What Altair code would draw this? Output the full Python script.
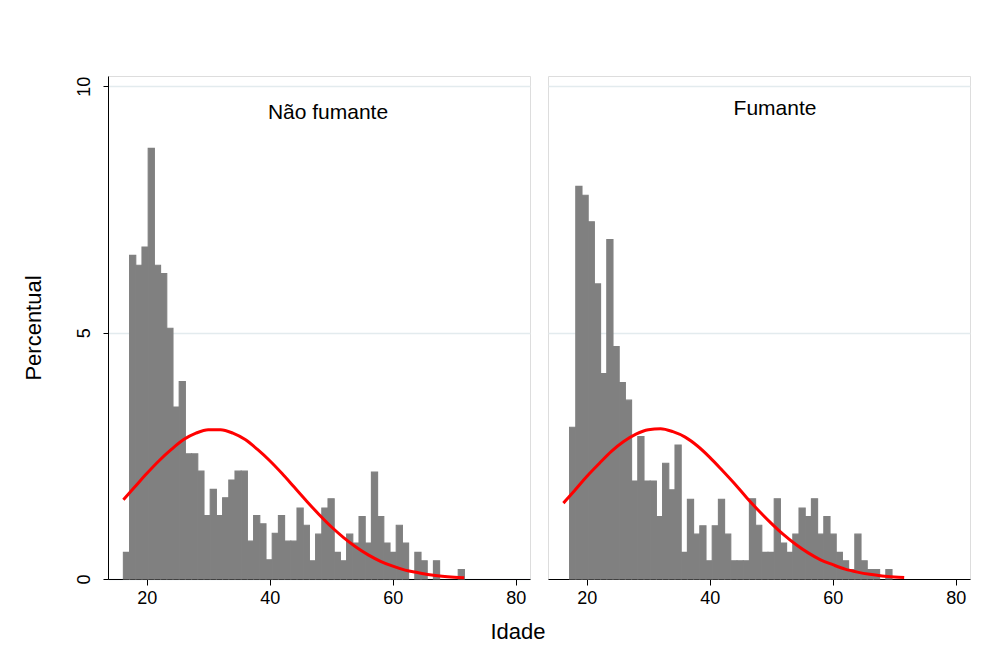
import altair as alt
import pandas as pd

# ---- data ----
bin_start = 16.2
bin_width = 1.008

pct_nao_fumante = [0.54, 6.57, 6.37, 6.74, 8.74, 6.37, 6.20, 5.09, 3.49, 4.01,
                   2.54, 2.54, 2.19, 1.29, 1.82, 1.29, 1.65, 2.01, 2.19, 2.19,
                   0.77, 1.29, 1.12, 0.39, 0.93, 1.29, 0.77, 0.77, 1.44, 1.09,
                   0.37, 0.91, 1.44, 1.63, 0.54, 0.37, 0.91, 0.73, 1.27, 0.73,
                   2.17, 1.27, 0.73, 0.54, 1.09, 0.73, 0.00, 0.54, 0.37, 0.00,
                   0.37, 0.00, 0.00, 0.00, 0.19]

pct_fumante = [0.00, 3.08, 7.97, 7.79, 7.25, 5.99, 4.17, 6.89, 4.72, 3.99,
               3.63, 1.99, 2.89, 1.99, 1.99, 1.27, 2.35, 1.81, 2.72, 0.54,
               1.62, 0.91, 1.08, 0.37, 1.08, 1.62, 0.91, 0.37, 0.37, 0.37,
               1.63, 1.09, 0.54, 0.54, 1.63, 0.73, 0.54, 0.91, 1.44, 1.27,
               1.63, 0.91, 1.27, 0.91, 0.54, 0.37, 0.19, 0.91, 0.37, 0.19,
               0.19, 0.00, 0.19, 0.00, 0.00]

curve_age = [16.2, 18, 20, 22, 24, 26, 28, 30, 32, 34, 36, 38, 40, 42, 44,
             46, 48, 50, 52, 54, 56, 58, 60, 62, 64, 66, 68, 70, 71.6]
curve_nao_fumante = [1.61, 1.86, 2.14, 2.40, 2.63, 2.83, 2.96, 3.03, 3.03, 2.96,
                     2.83, 2.63, 2.40, 2.14, 1.86, 1.58, 1.31, 1.06, 0.84, 0.65,
                     0.49, 0.36, 0.26, 0.18, 0.13, 0.086, 0.056, 0.036, 0.025]
curve_fumante = [1.54, 1.79, 2.08, 2.34, 2.59, 2.79, 2.94, 3.03, 3.05, 2.99,
                 2.88, 2.70, 2.47, 2.21, 1.94, 1.65, 1.38, 1.13, 0.90, 0.70,
                 0.53, 0.39, 0.29, 0.20, 0.14, 0.095, 0.063, 0.041, 0.028]

x_ticks = [20, 40, 60, 80]
y_ticks = [0, 5, 10]

FONT = "Liberation Sans"
W, H = 422, 503
x_scale = alt.Scale(domain=[13.7, 82.3], nice=False, zero=False)
y_scale = alt.Scale(domain=[0, 10.21], nice=False, zero=True)


def panel(pcts, curve, title, left, dx, dy):
    bars = pd.DataFrame({
        "x0": [bin_start + i * bin_width for i in range(len(pcts))],
        "pct": pcts,
    })
    bars["x1"] = bars["x0"] + bin_width
    bars["base"] = 0.0
    bars = bars[bars["pct"] > 0]
    line = pd.DataFrame({"age": curve_age, "dens": curve})

    x_axis = alt.Axis(values=x_ticks, title=None, grid=False, labelFontSize=18,
                      labelFont=FONT, labelColor="black", tickColor="black",
                      domainColor="black", tickSize=6, labelPadding=4,
                      labelFlush=False)
    if left:
        y_axis = alt.Axis(values=y_ticks, title="Percentual", grid=True,
                          gridColor="#e3ebee", gridWidth=1.5,
                          labelAngle=270, labelFontSize=18, labelFont=FONT,
                          labelColor="black", tickColor="black",
                          domainColor="black", tickSize=5, labelPadding=10,
                          titleFont=FONT, titleFontSize=22,
                          titleFontWeight="normal", titleColor="black",
                          titlePadding=30)
    else:
        y_axis = alt.Axis(values=[5, 10], title=None, grid=True,
                          gridColor="#e3ebee", gridWidth=1.5, labels=False,
                          ticks=False, domain=False)

    b = alt.Chart(bars).mark_rect(color="#808080", stroke="#808080",
                                  strokeWidth=1.1).encode(
        x=alt.X("x0:Q", scale=x_scale, axis=x_axis),
        x2="x1:Q",
        y=alt.Y("pct:Q", scale=y_scale, axis=y_axis),
        y2="base:Q",
    )
    l = alt.Chart(line).mark_line(color="#ff0000", strokeWidth=3,
                                  interpolate="monotone").encode(
        x=alt.X("age:Q", scale=x_scale),
        y=alt.Y("dens:Q", scale=y_scale),
    )
    return alt.layer(b, l).properties(
        width=W, height=H,
        title=alt.TitleParams(text=title, font=FONT, fontSize=21,
                              fontWeight="normal", color="black",
                              anchor="middle", dx=dx, dy=dy, offset=0),
    )


left = panel(pct_nao_fumante, curve_nao_fumante, "Não fumante", True, 9, 47)
right = panel(pct_fumante, curve_fumante, "Fumante", False, 16, 43)

chart = alt.hconcat(left, right, spacing=16).properties(
    title=alt.TitleParams(text="Idade", orient="bottom", anchor="middle",
                          font=FONT, fontSize=22, fontWeight="normal",
                          color="black", offset=14, dx=22),
    padding={"left": 13, "top": 67, "right": 5, "bottom": 5},
).configure_view(stroke=None).configure(background="white")

chart.save("out.html", embed_options={"renderer": "svg", "actions": False})
